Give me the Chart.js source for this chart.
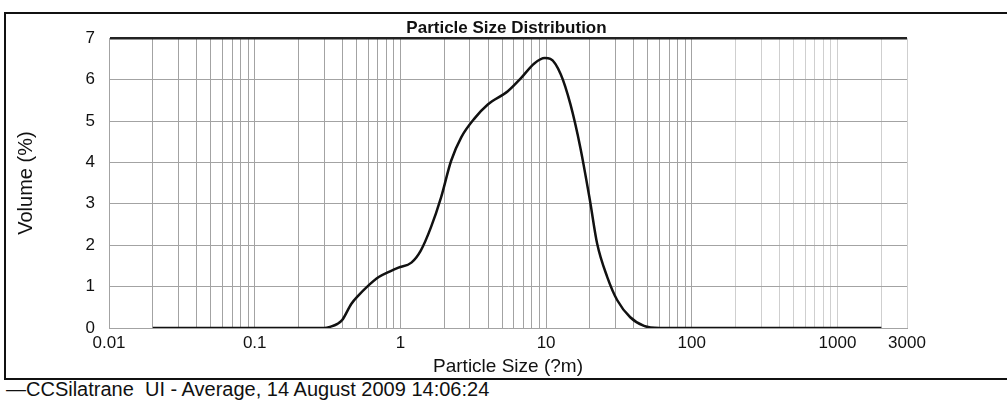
<!DOCTYPE html>
<html>
<head>
<meta charset="utf-8">
<script src="https://cdn.jsdelivr.net/npm/chart.js@4"></script>
<style>
  body { margin: 0; background: #fff; width: 1007px; height: 401px; overflow: hidden; position: relative; }
  #frame { position: absolute; left: 4px; top: 12px; width: 1010px; height: 364px; border: 2px solid #111; }
  #frame canvas { position: absolute; left: 0; top: 0; }
  #legend { position: absolute; left: 6px; top: 378px; font: 20px Arial, "Liberation Sans", sans-serif; color: #111; white-space: pre; }
</style>
</head>
<body>
<div id="frame"><canvas id="psd" width="1001" height="364"></canvas></div>
<div id="legend"></div>
<script>
// particle size (um) and volume (%)
const sizes = [0.02, 0.05, 0.1, 0.2, 0.3, 0.33, 0.37, 0.4, 0.46, 0.52, 0.58, 0.71, 0.85, 0.97, 1.19, 1.38, 1.62, 1.9, 2.23, 2.61, 3.24, 3.98, 5.46, 6.7, 8.3, 9.8, 10.7, 12.6, 14.7, 17.2, 20, 22.4, 26.3, 30.8, 37.8, 47, 60, 100, 500, 2000];
const volumes = [0, 0, 0, 0, 0, 0.03, 0.1, 0.2, 0.58, 0.8, 0.97, 1.23, 1.37, 1.46, 1.58, 1.87, 2.43, 3.15, 4.04, 4.6, 5.07, 5.4, 5.72, 6.03, 6.39, 6.52, 6.5, 6.13, 5.4, 4.35, 3.08, 2.04, 1.23, 0.67, 0.26, 0.05, 0, 0, 0, 0];

const xTickValues = [0.01, 0.1, 1, 10, 100, 1000, 3000];
const xTickLabels = ['0.01', '0.1', '1', '10', '100', '1000', '3000'];
const seriesLabel = 'CCSilatrane  UI - Average, 14 August 2009 14:06:24';

// grid lines at every 1..9 step of each decade, then 2000 and 3000
const gridValues = [];
for (let e = -2; e <= 2; e++) {
    for (let m = 1; m <= 9; m++) gridValues.push(+(m * Math.pow(10, e)).toPrecision(3));
}
gridValues.push(1000, 2000, 3000);

document.getElementById('legend').textContent = '\u2014' + seriesLabel;

const ctx = document.getElementById('psd').getContext('2d');
new Chart(ctx, {
    type: 'scatter',
    data: {
        datasets: [{
            label: seriesLabel,
            data: sizes.map((s, i) => ({ x: s, y: volumes[i] })),
            showLine: true,
            borderColor: '#111',
            borderWidth: 2.5,
            pointRadius: 0,
            cubicInterpolationMode: 'monotone',
        }]
    },
    options: {
        responsive: false,
        animation: false,
        layout: { padding: 0 },
        plugins: {
            legend: { display: false },
            tooltip: { enabled: false },
            title: {
                display: true,
                text: 'Particle Size Distribution',
                color: '#111',
                font: { family: 'Arial', size: 17, weight: 'bold' },
                lineHeight: 1.1,
                padding: { top: 0, bottom: 0 }
            }
        },
        scales: {
            x: {
                type: 'logarithmic',
                min: 0.01,
                max: 3000,
                afterBuildTicks: (scale) => { scale.ticks = gridValues.map(v => ({ value: v })); },
                afterFit: (scale) => { scale.height = 50; },
                ticks: {
                    autoSkip: false,
                    maxRotation: 0,
                    padding: 5,
                    color: '#111',
                    font: { family: 'Arial', size: 17 },
                    callback: (value) => {
                        const i = xTickValues.indexOf(value);
                        return i >= 0 ? xTickLabels[i] : '';
                    }
                },
                grid: {
                    drawTicks: false,
                    color: (c) => (c.tick && c.tick.value > 100 ? '#cfcfcf' : '#a3a3a3'),
                    lineWidth: 1
                },
                border: { color: '#a3a3a3' },
                title: {
                    display: true,
                    text: 'Particle Size (?m)',
                    color: '#111',
                    font: { family: 'Arial', size: 19 },
                    padding: { top: 0, bottom: 0 }
                }
            },
            y: {
                min: 0,
                max: 7,
                afterFit: (scale) => { scale.width = 103; },
                ticks: {
                    stepSize: 1,
                    padding: 14,
                    color: '#111',
                    font: { family: 'Arial', size: 17 }
                },
                grid: {
                    drawTicks: false,
                    color: (c) => (c.tick && c.tick.value === 7 ? '#222' : '#a3a3a3'),
                    lineWidth: (c) => (c.tick && c.tick.value === 7 ? 2.5 : 1)
                },
                border: { color: '#a3a3a3' },
                title: {
                    display: true,
                    text: 'Volume (%)',
                    color: '#111',
                    font: { family: 'Arial', size: 20 },
                    padding: { top: 8, bottom: 0 }
                }
            },
            // empty right-hand axis, only keeps the blank margin right of the plot
            yRight: {
                position: 'right',
                min: 0,
                max: 7,
                afterFit: (scale) => { scale.width = 100; },
                ticks: { display: false },
                grid: { display: false, drawTicks: false },
                border: { display: false }
            }
        }
    }
});
</script>
</body>
</html>
